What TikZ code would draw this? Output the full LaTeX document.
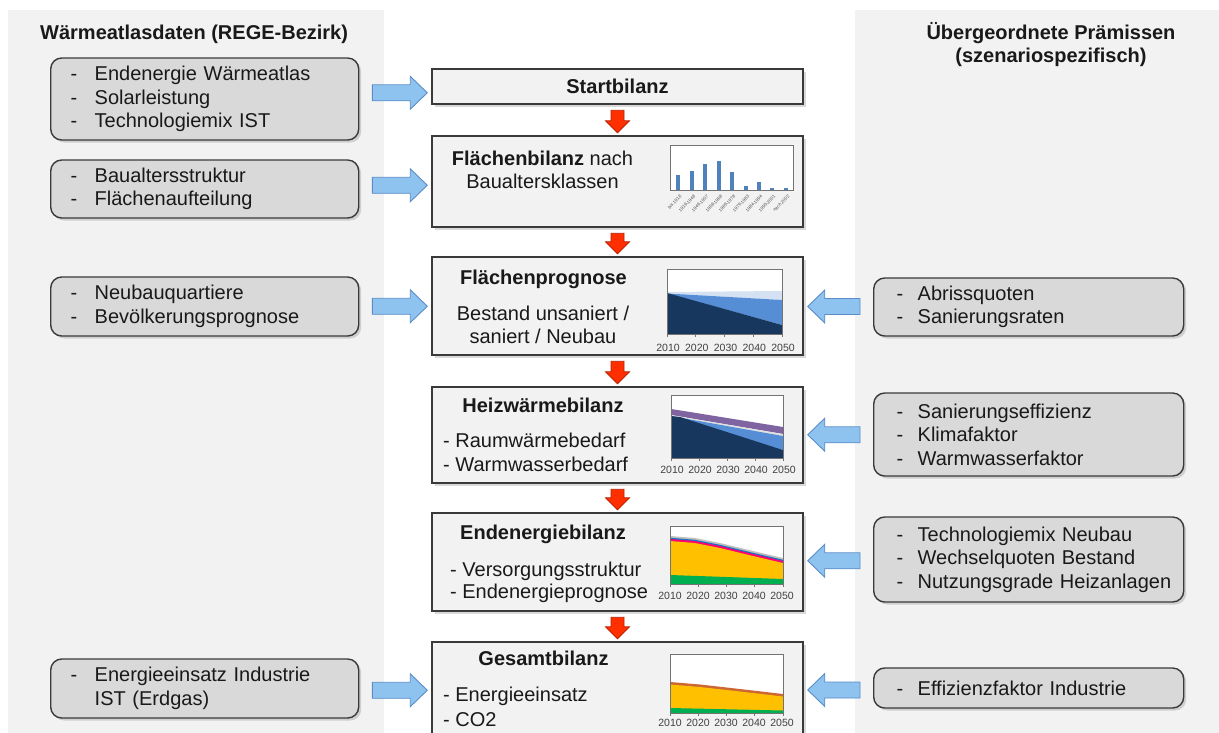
\documentclass[tikz,border=0pt]{standalone}
\usepackage{fontspec}
\setmainfont{Liberation Sans}
\usetikzlibrary{calc,positioning,shadows}

\definecolor{panelgray}{HTML}{F2F2F2}
\definecolor{boxgray}{HTML}{D9D9D9}
\definecolor{linegray}{HTML}{3A3A3A}
\definecolor{feedblue}{HTML}{8EC3F0}
\definecolor{feededge}{HTML}{5A8CC8}
\definecolor{flowred}{HTML}{FF2F00}
\definecolor{flowedge}{HTML}{B82000}
\definecolor{barblue}{HTML}{4F81BD}
\definecolor{navy}{HTML}{17375E}
\definecolor{midblue}{HTML}{558ED5}
\definecolor{paleblue}{HTML}{D3E1F3}
\definecolor{heatpurple}{HTML}{8064A2}
\definecolor{oilyellow}{HTML}{FFC000}
\definecolor{woodgreen}{HTML}{00B050}

% list line with a dash in front
\newcommand{\dashitem}[2][24pt]{\mbox{\makebox[#1][l]{-}#2}}

% block arrow: style, tail, tip, half shaft, half head, head length
\newcommand{\blockarrow}[6]{%
  \coordinate (bh) at ($(#3)!#6!(#2)$);
  \draw[#1] ($(#2)!#4!90:(#3)$) -- ($(bh)!#4!90:(#3)$) -- ($(bh)!#5!90:(#3)$) -- (#3)
    -- ($(bh)!#5!-90:(#3)$) -- ($(bh)!#4!-90:(#3)$) -- ($(#2)!#4!-90:(#3)$) -- cycle;}

% blue input arrow from a side box into the chain
\newcommand{\sidefeed}[2]{%
  \coordinate (fm) at ($(#1)!0.5!(#2)$);
  \coordinate (ft) at ($(fm -| #1)!13pt!(fm -| #2)$);
  \coordinate (fp) at ($(fm -| #2)!4pt!(fm -| #1)$);
  \blockarrow{feedarrow}{ft}{fp}{8pt}{16.5pt}{17pt}}

% red arrow down the chain
\newcommand{\mainflow}[2]{%
  \coordinate (ft) at ($(#1.south)+(0,5.5)$);
  \coordinate (fp) at ($(#2.north)+(0,-2.5)$);
  \blockarrow{flowarrow}{ft}{fp}{6.5pt}{12pt}{12pt}}

\begin{document}
\begin{tikzpicture}[
        x=1pt, y=-1pt,
        every node/.style={font=\fontsize{20}{23.5}\selectfont, text=black!90},
        title/.style={font=\bfseries\fontsize{20}{23.5}\selectfont},
        body/.style={font=\fontsize{20}{#1}\selectfont, align=left, inner sep=0pt, anchor=west},
        sidebox/.style={draw=linegray, line width=1.4pt, fill=boxgray, rounded corners=11pt,
            anchor=west, align=left, inner xsep=20pt, text width=268pt,
            drop shadow={shadow xshift=2.5pt, shadow yshift=-2.5pt, opacity=0.3}},
        prembox/.style={sidebox, inner xsep=23pt, text width=264pt},
        mainbox/.style={draw=linegray, line width=1.5pt, fill=panelgray, minimum width=371pt,
            drop shadow={shadow xshift=2.5pt, shadow yshift=-2.5pt, opacity=0.3}},
        feedarrow/.style={fill=feedblue, draw=feededge, line width=0.9pt},
        flowarrow/.style={fill=flowred, draw=flowedge, line width=0.8pt},
        frame/.style={draw=black!55, line width=0.7pt, fill=white},
        tick/.style={draw=black!55, line width=0.6pt},
        year/.style={font=\fontsize{10.5}{12}\selectfont, text=black!75, inner sep=0pt},
        barlbl/.style={font=\fontsize{4.5}{5}\selectfont, text=black!70, rotate=45, anchor=east, inner sep=0.3pt}
    ]
    \useasboundingbox (0,0) rectangle (1219,732);
    \clip (0,0) rectangle (1219,732);

    % Panels
    \fill[panelgray] (8,10) rectangle (384,740);
    \fill[panelgray] (855,10) rectangle (1225,740);

    \node[title, anchor=base west, inner sep=0pt] (wahead) at (40,39) {Wärmeatlasdaten (REGE-Bezirk)};
    \node[title, align=center] (prhead) at (1051,44.7) {Übergeordnete Prämissen\\(szenariospezifisch)};

    % Side boxes
    \node[sidebox, minimum height=82pt] (wa1) at (50,99)
        {\dashitem{Endenergie Wärmeatlas}\\ \dashitem{Solarleistung}\\ \dashitem{Technologiemix IST}};
    \node[sidebox, minimum height=58pt] (wa2) at (50,189)
        {\dashitem{Baualtersstruktur}\\ \dashitem{Flächenaufteilung}};
    \node[sidebox, minimum height=59pt] (wa3) at (50,306.5)
        {\dashitem{Neubauquartiere}\\ \dashitem{Bevölkerungsprognose}};
    \node[sidebox, minimum height=59pt] (wa4) at (50,688.5)
        {\dashitem{Energieeinsatz Industrie}\\ \mbox{\makebox[24pt]{}IST (Erdgas)}};

    \node[prembox, minimum height=58pt] (pr1) at (873,307)
        {\dashitem[21pt]{Abrissquoten}\\ \dashitem[21pt]{Sanierungsraten}};
    \node[prembox, minimum height=83pt] (pr2) at (873,434.5)
        {\dashitem[21pt]{Sanierungseffizienz}\\ \dashitem[21pt]{Klimafaktor}\\ \dashitem[21pt]{Warmwasserfaktor}};
    \node[prembox, minimum height=85pt] (pr3) at (873,559.5)
        {\dashitem[21pt]{Technologiemix Neubau}\\ \dashitem[21pt]{Wechselquoten Bestand}\\ \dashitem[21pt]{Nutzungsgrade Heizanlagen}};
    \node[prembox, minimum height=40pt] (pr4) at (873,688)
        {\dashitem[21pt]{Effizienzfaktor Industrie}};

    % Chain
    \node[mainbox, minimum height=35pt] (start) at (617.5,86.5) {};
    \node[mainbox, minimum height=91pt, below=30.5pt of start] (area) {};
    \node[mainbox, minimum height=98pt, below=28.5pt of area] (areafc) {};
    \node[mainbox, minimum height=96pt, below=30.5pt of areafc] (heat) {};
    \node[mainbox, minimum height=98pt, below=28.5pt of heat] (final) {};
    \node[mainbox, minimum height=100pt, below=29.5pt of final] (total) {};

    \node[title] (startt) at (start) {Startbilanz};
    \node[align=center, font=\fontsize{20}{23}\selectfont] (areat) at (542.5,170.2)
        {\textbf{Flächenbilanz} nach\\Baualtersklassen};
    \node[title] (areafct) at (543.5,279.8) {Flächenprognose};
    \node[align=center, font=\fontsize{20}{23}\selectfont] (areafcb) at (543,324.4)
        {Bestand unsaniert /\\saniert / Neubau};
    \node[title] (heatt) at (543,405.7) {Heizwärmebilanz};
    \node[body=24] (heatb) at (443,452.7) {- Raumwärmebedarf\\- Warmwasserbedarf};
    \node[title] (finalt) at (543,534.8) {Endenergiebilanz};
    \node[body=22] (finalb) at (450,582.8) {- Versorgungsstruktur\\- Endenergieprognose};
    \node[title] (totalt) at (543.5,658.7) {Gesamtbilanz};
    \node[body=25] (totalb) at (443,707.3) {- Energieeinsatz\\- CO2};

    % Arrows
    \mainflow{start}{area}
    \mainflow{area}{areafc}
    \mainflow{areafc}{heat}
    \mainflow{heat}{final}
    \mainflow{final}{total}

    \sidefeed{wa1.east}{start.west}
    \sidefeed{wa2.east}{area.west}
    \sidefeed{wa3.east}{areafc.west}
    \sidefeed{wa4.east}{total.west}
    \sidefeed{pr1.west}{areafc.east}
    \sidefeed{pr2.west}{heat.east}
    \sidefeed{pr3.west}{final.east}
    \sidefeed{pr4.west}{total.east}

    % Chart: building age classes
    \draw[frame] (670,145) rectangle (793,190);
    \foreach \x/\h in {678/175, 692/171, 705/164, 719/161, 732/172, 746/186, 759/182, 772/188, 786/188}
        \fill[barblue] (\x-2.3,\h) rectangle (\x+2.3,190);
    \foreach \x/\l in {678/bis 1918, 692/1919-1948, 705/1949-1957, 719/1958-1968, 732/1969-1978,
                       746/1979-1983, 759/1984-1994, 772/1995-2001, 786/nach 2002}
        \node[barlbl] at (\x+3,195.5) {\l};

    % Chart: floor area forecast
    \draw[frame] (667,269) rectangle (782,334);
    \fill[paleblue] (667,292) -- (782,291) -- (782,300) -- (667,294) -- cycle;
    \fill[midblue] (667,293.5) -- (782,300) -- (782,325) -- cycle;
    \fill[navy] (667,293) -- (782,325) -- (782,334) -- (667,334) -- cycle;
    \draw[frame, fill=none] (667,269) rectangle (782,334);
    \foreach \yr [count=\i from 0] in {2010,2020,2030,2040,2050} {
        \draw[tick] ({667+\i*28.75},334) -- ++(0,3);
        \node[year] (ya\i) at ({668+\i*28.75},347.5) {\yr};
    }

    % Chart: heat demand
    \draw[frame] (671,395) rectangle (783,458);
    \fill[heatpurple] (671,409) -- (690,412) -- (783,427) -- (783,434) -- (671,415) -- cycle;
    \fill[black!12] (671,415) -- (783,434) -- (783,436) -- (671,416) -- cycle;
    \fill[midblue] (671,416) -- (783,436) -- (783,450) -- cycle;
    \fill[navy] (671,416) -- (680,417) -- (783,450) -- (783,458) -- (671,458) -- cycle;
    \draw[frame, fill=none] (671,395) rectangle (783,458);
    \foreach \yr [count=\i from 0] in {2010,2020,2030,2040,2050} {
        \draw[tick] ({671+\i*28},458) -- ++(0,3);
        \node[year] (yb\i) at ({672+\i*28},470) {\yr};
    }

    % Chart: final energy
    \draw[frame] (670,526) rectangle (783,584);
    \foreach \d/\c in {5/black!25, 3.2/cyan!55!blue, 2/red!55!magenta, 0/oilyellow}
        \fill[\c] (670,541-\d) -- (695,543-\d) -- (720,548-\d) -- (753,556-\d) -- (783,563-\d)
            -- (783,584) -- (670,584) -- cycle;
    \fill[woodgreen] (670,575) -- (783,579) -- (783,584) -- (670,584) -- cycle;
    \draw[frame, fill=none] (670,526) rectangle (783,584);
    \foreach \yr [count=\i from 0] in {2010,2020,2030,2040,2050} {
        \draw[tick] ({670+\i*28.25},584) -- ++(0,3);
        \node[year] (yc\i) at ({670+\i*28},596) {\yr};
    }

    % Chart: total
    \draw[frame] (670,654) rectangle (783,713);
    \foreach \d/\c in {2.5/brown!80!red, 0/oilyellow}
        \fill[\c] (670,684.5-\d) -- (700,687-\d) -- (740,691.5-\d) -- (783,696.5-\d)
            -- (783,713) -- (670,713) -- cycle;
    \fill[woodgreen] (670,708) -- (783,710.5) -- (783,713) -- (670,713) -- cycle;
    \draw[frame, fill=none] (670,654) rectangle (783,713);
    \foreach \yr [count=\i from 0] in {2010,2020,2030,2040,2050} {
        \draw[tick] ({670+\i*28.25},713) -- ++(0,3);
        \node[year] (yd\i) at ({670+\i*28},723) {\yr};
    }

\end{tikzpicture}
\end{document}
